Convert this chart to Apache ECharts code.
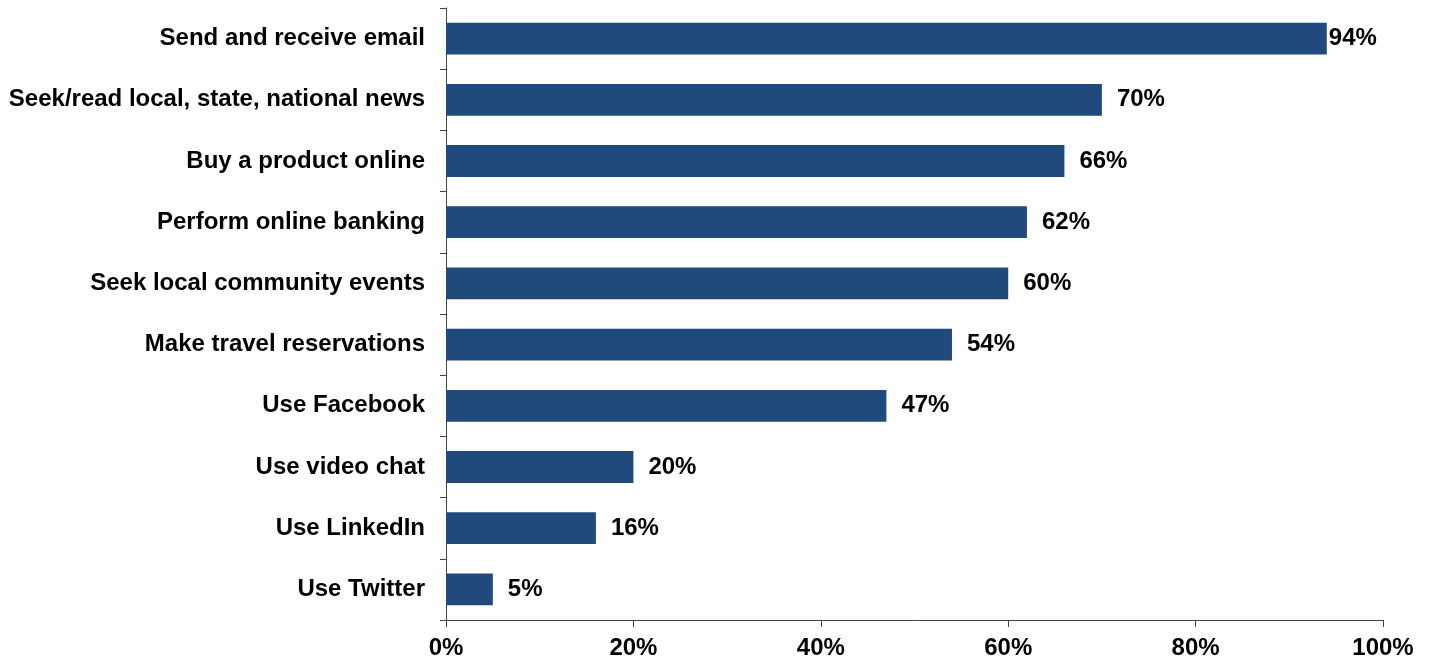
<!DOCTYPE html>
<html>
<head>
<meta charset="utf-8">
<script src="https://cdn.jsdelivr.net/npm/echarts@6/dist/echarts.min.js"></script>
<style>html,body{margin:0;padding:0;background:#fff;}#c{width:1431px;height:660px;}</style>
</head>
<body>
<div id="c"></div>
<script>
var categories = ["Send and receive email","Seek/read local, state, national news","Buy a product online","Perform online banking","Seek local community events","Make travel reservations","Use Facebook","Use video chat","Use LinkedIn","Use Twitter"];
var values = [94,70,66,62,60,54,47,20,16,5];
var xTicks = [0,20,40,60,80,100];

var font = 'Liberation Sans, Arial, sans-serif';
var chart = echarts.init(document.getElementById('c'));
chart.setOption({
  animation: false,
  grid: {left: 446, right: 48, top: 8, bottom: 40, containLabel: false},
  xAxis: {
    type: 'value', min: xTicks[0], max: xTicks[xTicks.length - 1], interval: xTicks[1] - xTicks[0],
    axisLine: {show: true, lineStyle: {color: '#444', width: 1}},
    axisTick: {show: true, length: 7, lineStyle: {color: '#444'}},
    splitLine: {show: false},
    axisLabel: {margin: 16, color: '#000', fontSize: 24, fontWeight: 'bold', fontFamily: font,
      formatter: function(v){ return v + '%'; }}
  },
  yAxis: {
    type: 'category', data: categories, inverse: true,
    axisLine: {show: true, lineStyle: {color: '#444', width: 1}},
    axisTick: {show: true, length: 6, lineStyle: {color: '#444'}},
    axisLabel: {margin: 21, color: '#000', fontSize: 24, fontWeight: 'bold', fontFamily: font, padding: [4, 0, 0, 0]}
  },
  series: [{
    type: 'bar',
    data: values.map(function(v){ return {value: v, label: {distance: v > 90 ? 2 : 15}}; }),
    barCategoryGap: '48%',
    itemStyle: {color: '#214A7C'},
    label: {show: true, position: 'right', color: '#000', fontSize: 24, fontWeight: 'bold', fontFamily: font, padding: [4, 0, 0, 0],
      formatter: function(p){ return p.value + '%'; }}
  }]
});
</script>
</body>
</html>
